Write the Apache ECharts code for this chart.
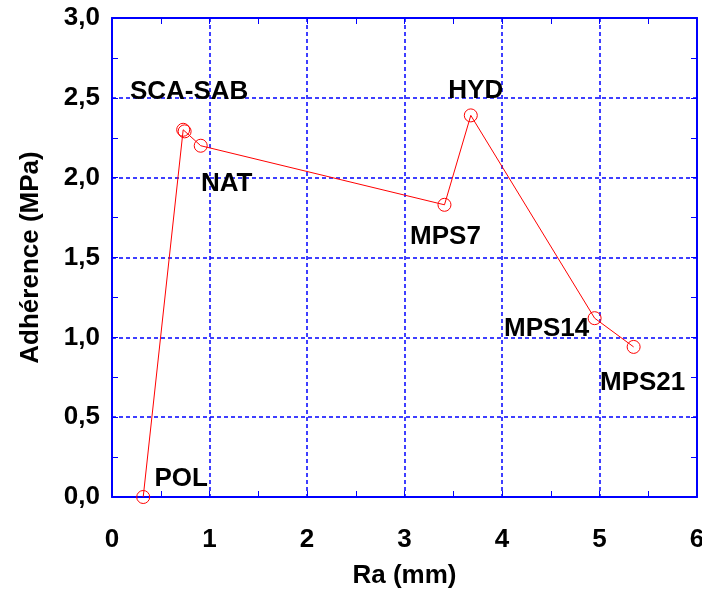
<!DOCTYPE html>
<html>
<head>
<meta charset="utf-8">
<script src="https://cdn.jsdelivr.net/npm/echarts@6/dist/echarts.min.js"></script>
<style>
  html, body { margin: 0; padding: 0; background: #fff; }
  #chart { width: 702px; height: 595px; }
</style>
</head>
<body>
<div id="chart"></div>
<script>
// surface samples, in the order the line joins them
const samples = ['POL', 'SCA', 'SAB', 'NAT', 'MPS7', 'HYD', 'MPS14', 'MPS21'];
const ra = [0.32, 0.73, 0.745, 0.91, 3.41, 3.68, 4.95, 5.35];
const adherence = [0.0, 2.3, 2.29, 2.2, 1.83, 2.39, 1.12, 0.94];

// text labels written beside the points
const labelNames = ['POL', 'SCA-SAB', 'NAT', 'MPS7', 'HYD', 'MPS14', 'MPS21'];
const labelAt = ['POL', 'SCA', 'NAT', 'MPS7', 'HYD', 'MPS14', 'MPS21'];

const blue = '#0000ff';
const font = 'Liberation Sans, Arial, sans-serif';
const fs = 26;

// label offsets (px) relative to the point
const offsets = {
  'POL': [38, -18], 'SCA-SAB': [6, -38], 'NAT': [26, 38], 'MPS7': [1, 32],
  'HYD': [5, -25], 'MPS14': [-48, 11], 'MPS21': [9, 36]
};

const linePts = ra.map((x, i) => [x, adherence[i]]);
const labelPts = labelNames.map((name, i) => {
  const k = samples.indexOf(labelAt[i]);
  return {
    value: [ra[k], adherence[k]],
    label: { show: true, formatter: name, offset: offsets[name] }
  };
});

const comma = v => v.toFixed(1).replace('.', ',');
const gridLine = { show: true, lineStyle: { color: [blue], type: [4, 3], width: 1.5 } };
const tick = { show: true, inside: true, length: 6, lineStyle: { color: blue, width: 1 } };
const minor = { show: true, splitNumber: 2, length: 6, lineStyle: { color: blue, width: 1 } };
const frame = { show: true, onZero: false, lineStyle: { color: blue, width: 2 } };
const txt = { fontFamily: font, fontWeight: 'bold', fontSize: fs, color: '#000' };

const chart = echarts.init(document.getElementById('chart'), null, { renderer: 'canvas' });
chart.setOption({
  animation: false,
  grid: { left: 112, right: 5, top: 18, bottom: 98, containLabel: false, outerBoundsMode: 'none' },
  xAxis: [{
    type: 'value', min: 0, max: 6, interval: 1,
    name: 'Ra (mm)', nameLocation: 'middle', nameGap: 66,
    nameTextStyle: txt,
    axisLine: frame, axisTick: tick, minorTick: minor,
    splitLine: gridLine,
    axisLabel: Object.assign({ margin: 30, hideOverlap: false }, txt)
  }, {
    type: 'value', position: 'top', min: 0, max: 6, interval: 1,
    axisLine: frame, axisTick: tick, minorTick: minor,
    splitLine: { show: false }, axisLabel: { show: false }
  }],
  yAxis: [{
    type: 'value', min: 0, max: 3, interval: 0.5,
    name: 'Adhérence (MPa)', nameLocation: 'middle', nameGap: 68,
    nameTextStyle: txt,
    axisLine: frame, axisTick: tick, minorTick: minor,
    splitLine: gridLine,
    axisLabel: Object.assign({ margin: 12, formatter: comma }, txt)
  }, {
    type: 'value', position: 'right', min: 0, max: 3, interval: 0.5,
    axisLine: frame, axisTick: tick, minorTick: minor,
    splitLine: { show: false }, axisLabel: { show: false }
  }],
  series: [{
    type: 'line', data: linePts,
    symbol: 'circle', symbolSize: 13,
    lineStyle: { color: '#ff0000', width: 1 },
    itemStyle: { color: 'rgba(0,0,0,0)', borderColor: '#ff0000', borderWidth: 1 },
    z: 3
  }, {
    type: 'scatter', data: labelPts, symbolSize: 0,
    itemStyle: { opacity: 1 },
    label: Object.assign({ position: 'inside', opacity: 1 }, txt),
    z: 4
  }]
});
</script>
</body>
</html>
